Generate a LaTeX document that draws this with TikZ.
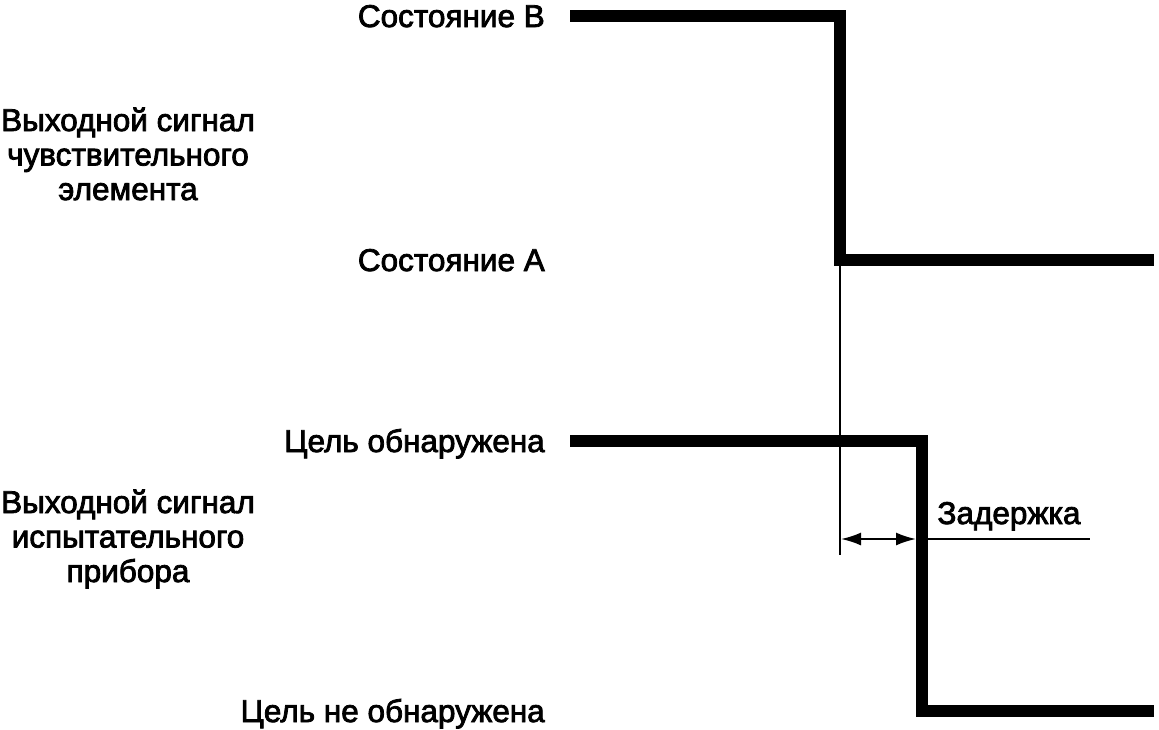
\documentclass[tikz,border=0pt]{standalone}
\usepackage{fontspec}
\setmainfont{Liberation Sans}
\newfontfamily\lblfont[FakeBold=2.5]{Liberation Sans}
\usetikzlibrary{arrows.meta}
\begin{document}
\begin{tikzpicture}[x=1pt,y=-1pt,
  sig/.style={line width=12pt, line cap=butt, line join=miter},
  thinln/.style={line width=2pt},
  lbl/.style={font=\lblfont\fontsize{31.5}{34.5}\selectfont, inner sep=0pt},
  side/.style={lbl, align=center, anchor=base}]
\useasboundingbox (0,0) rectangle (1159,729);
% sensing element signal
\coordinate (b0) at (570,16);
\coordinate (b1) at (840,16);
\coordinate (b2) at (840,260);
\coordinate (b3) at (1154,260);
\draw[sig] (b0) -- (b1) -- (b2) -- (b3);
% test device signal
\coordinate (d0) at (570,441);
\coordinate (d1) at (922,441);
\coordinate (d2) at (922,711);
\coordinate (d3) at (1154,711);
\draw[sig] (d0) -- (d1) -- (d2) -- (d3);
% reference line and delay
\coordinate (t0) at (840,266);
\coordinate (t1) at (840,555);
\draw[thinln] (t0) -- (t1);
\coordinate (a0) at (841,539);
\coordinate (a1) at (916,539);
\coordinate (a2) at (928,539);
\coordinate (a3) at (1090,539);
\draw[thinln, {Latex[length=20pt,width=13pt]}-{Latex[length=20pt,width=13pt]}] (a0) -- (a1);
\draw[thinln] (a2) -- (a3);
\node[lbl, anchor=base] (zad) at (1009,524) {Задержка};
% level labels
\node[lbl, anchor=base east] (sB) at (545,27) {Состояние B};
\node[lbl, anchor=base east] (sA) at (545,271) {Состояние A};
\node[lbl, anchor=base east] (c1) at (545,452) {Цель обнаружена};
\node[lbl, anchor=base east] (c0) at (545,722) {Цель не обнаружена};
% side labels
\node[side] (g1) at (128,200) {Выходной сигнал\\чувствительного\\элемента};
\node[side] (g2) at (128,582) {Выходной сигнал\\испытательного\\прибора};
\end{tikzpicture}
\end{document}
